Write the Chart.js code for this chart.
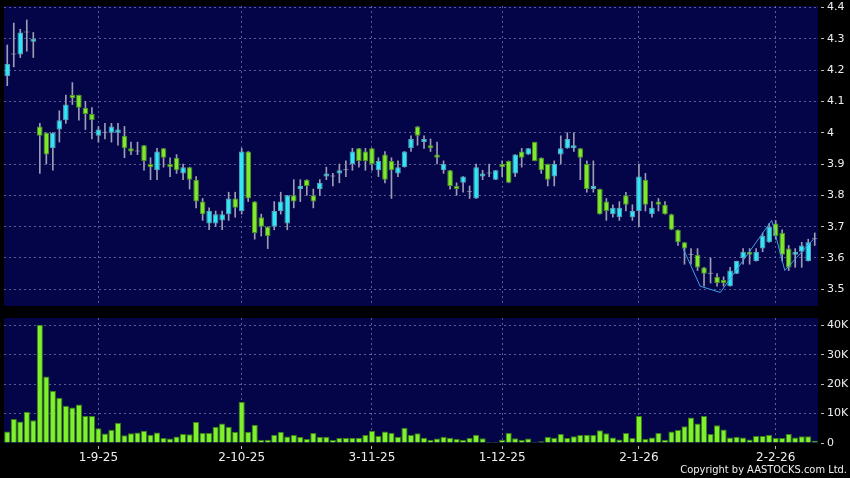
<!DOCTYPE html>
<html>
<head>
<meta charset="utf-8">
<script src="https://cdn.jsdelivr.net/npm/chart.js@4.4.1/dist/chart.umd.min.js"></script>
<style>
  html, body { margin: 0; padding: 0; background: #000; }
  #wrap { position: relative; width: 850px; height: 478px; overflow: hidden; }
  #priceChart { position: absolute; left: 0; top: 0; }
  #volChart { position: absolute; left: 0; top: 310px; }
  #copy {
    position: absolute; right: 3px; top: 463px;
    color: #f0f0f0; font-size: 11px;
    font-family: "DejaVu Sans Condensed", "DejaVu Sans", sans-serif;
    font-stretch: condensed;
  }
</style>
</head>
<body>
<div id="wrap">
  <canvas id="priceChart" width="850" height="310"></canvas>
  <canvas id="volChart" width="850" height="168"></canvas>
  <div id="copy">Copyright by AASTOCKS.com Ltd.</div>
</div>
<script>
// daily candles
const open = [4.18,4.25,4.25,4.32,4.29,4.02,4.00,3.95,4.01,4.04, 4.12,4.12,4.08,4.06,3.99,4.00,4.00,4.00,3.99,3.95,
  3.94,3.96,3.90,3.88,3.95,3.90,3.92,3.87,3.89,3.85, 3.78,3.71,3.71,3.72,3.74,3.79,3.75,3.94,3.78,3.73,
  3.70,3.70,3.75,3.71,3.80,3.82,3.85,3.80,3.82,3.86, 3.86,3.87,3.88,3.90,3.95,3.94,3.95,3.88,3.93,3.91,
  3.87,3.89,3.95,4.02,3.97,3.96,3.93,3.88,3.88,3.83, 3.84,3.81,3.79,3.86,3.87,3.85,3.90,3.91,3.87,3.94,
  3.93,3.97,3.92,3.90,3.86,3.93,3.95,3.95,3.95,3.90, 3.82,3.82,3.78,3.74,3.73,3.80,3.73,3.75,3.85,3.74,
  3.78,3.77,3.74,3.69,3.65,3.61,3.61,3.57,3.55,3.54, 3.53,3.51,3.55,3.60,3.62,3.59,3.63,3.65,3.71,3.68,
  3.63,3.61,3.62,3.59,3.66];
const high = [4.28,4.35,4.33,4.36,4.32,4.03,4.00,4.00,4.07,4.12, 4.16,4.12,4.10,4.08,4.02,4.03,4.03,4.03,4.02,3.97,
  3.97,3.96,3.92,3.95,3.95,3.92,3.93,3.90,3.89,3.86, 3.79,3.76,3.75,3.75,3.81,3.81,3.95,3.94,3.78,3.74,
  3.70,3.78,3.81,3.80,3.85,3.85,3.85,3.82,3.85,3.89, 3.87,3.90,3.91,3.95,3.95,3.95,3.95,3.92,3.94,3.92,
  3.91,3.94,3.99,4.02,3.99,3.98,3.97,3.91,3.88,3.84, 3.86,3.83,3.90,3.88,3.90,3.88,3.91,3.91,3.93,3.95,
  3.95,3.97,3.92,3.90,3.91,3.99,4.00,4.00,3.95,3.91, 3.91,3.82,3.79,3.77,3.78,3.81,3.77,3.90,3.87,3.78,
  3.79,3.78,3.74,3.69,3.65,3.63,3.63,3.57,3.60,3.55, 3.54,3.57,3.59,3.63,3.63,3.63,3.68,3.71,3.72,3.69,
  3.64,3.63,3.65,3.66,3.68];
const low = [4.15,4.21,4.24,4.26,4.24,3.87,3.90,3.88,3.97,4.03, 4.09,4.04,4.01,3.98,3.97,3.98,3.97,3.96,3.92,3.93,
  3.93,3.88,3.85,3.85,3.89,3.86,3.87,3.85,3.82,3.76, 3.72,3.69,3.70,3.69,3.72,3.73,3.74,3.78,3.66,3.67,
  3.63,3.69,3.74,3.69,3.76,3.78,3.80,3.76,3.80,3.85, 3.83,3.84,3.86,3.88,3.89,3.88,3.88,3.86,3.84,3.79,
  3.86,3.89,3.94,3.96,3.95,3.94,3.90,3.87,3.82,3.80, 3.81,3.79,3.79,3.85,3.86,3.85,3.86,3.84,3.86,3.89,
  3.93,3.91,3.87,3.83,3.83,3.90,3.95,3.94,3.85,3.81, 3.81,3.74,3.72,3.73,3.72,3.75,3.72,3.70,3.75,3.73,
  3.75,3.74,3.69,3.64,3.58,3.58,3.56,3.51,3.52,3.51, 3.51,3.51,3.55,3.58,3.58,3.59,3.62,3.65,3.66,3.59,
  3.56,3.57,3.57,3.59,3.64];
const close = [4.22,4.25,4.32,4.32,4.30,3.99,3.93,4.00,4.04,4.09, 4.11,4.08,4.06,4.04,4.01,4.00,4.02,4.01,3.95,3.94,
  3.94,3.91,3.89,3.94,3.92,3.89,3.88,3.89,3.85,3.78, 3.74,3.75,3.74,3.74,3.79,3.76,3.94,3.79,3.68,3.70,
  3.67,3.75,3.78,3.80,3.78,3.83,3.83,3.78,3.84,3.87, 3.86,3.88,3.88,3.94,3.91,3.91,3.90,3.91,3.85,3.88,
  3.89,3.94,3.98,3.99,3.98,3.95,3.92,3.90,3.83,3.82, 3.86,3.81,3.89,3.87,3.87,3.88,3.89,3.84,3.93,3.92,
  3.95,3.91,3.88,3.85,3.90,3.95,3.98,3.96,3.92,3.82, 3.83,3.74,3.75,3.76,3.76,3.77,3.75,3.86,3.77,3.76,
  3.77,3.74,3.69,3.65,3.63,3.61,3.57,3.55,3.55,3.52, 3.52,3.56,3.59,3.62,3.61,3.62,3.67,3.70,3.67,3.61,
  3.57,3.62,3.64,3.65,3.66];
const volume = [3900,8200,7300,10600,7700,40200,22600,17800,15400,12700, 12100,13100,9200,9200,5000,3200,4500,6900,2600,3300,
  3600,4200,2800,3600,1700,1500,2200,3100,3000,7100, 3400,3400,5500,6600,5500,3800,14000,3800,6200,1100,
  1100,2800,3800,2200,2700,2000,1400,3400,2100,2100, 1000,1700,1700,1800,1800,2700,4200,2400,3900,3500,
  2100,5200,2700,3300,1800,1100,1500,2100,1800,1400, 1100,1700,2800,1600,300,300,1100,3400,1600,1000,
  1500,400,600,2000,1800,3100,1700,2300,2700,2800, 2700,4300,3300,1900,1200,3400,1700,9200,1400,1900,
  3400,1100,3900,4400,5700,8700,6600,9200,3100,6000, 4600,1900,2100,1900,1200,2400,2400,2800,1700,1700,
  3100,1900,2300,2300,800];

// thin trend line (position in candles, price)
const trendX = [103.8, 106.4, 109.5, 117.4, 119.4, 123.8];
const trendY = [3.63, 3.51, 3.49, 3.72, 3.56, 3.66];

const tickIdx = [14, 36, 56, 76, 97, 118];
const tickLabels = ['1-9-25', '2-10-25', '3-11-25', '1-12-25', '2-1-26', '2-2-26'];
const priceTicks = [3.5, 3.6, 3.7, 3.8, 3.9, 4.0, 4.1, 4.2, 4.3, 4.4];
const volTicks = [0, 10000, 20000, 30000, 40000];

const N = close.length;
const labels = close.map((_, i) => String(i));

const upFill = '#33e6f6', downFill = '#7fe82c', flatFill = '#a8a8bc';
const upLine = '#5aa6b6', downLine = '#4c9420';
const wickColor = '#9c9cb4';
const gridColor = 'rgba(130,130,180,0.7)';
const textColor = '#eeeeee';

const bodyFill = close.map((c, i) => c > open[i] ? upFill : (c < open[i] ? downFill : flatFill));
const bodyLine = close.map((c, i) => c > open[i] ? upLine : (c < open[i] ? downLine : flatFill));

Chart.defaults.font.family = '"DejaVu Sans", sans-serif';
Chart.defaults.color = textColor;

const panelBg = {
  id: 'panelBg',
  beforeDraw(chart) {
    const { ctx, chartArea: a } = chart;
    ctx.save();
    ctx.fillStyle = '#040449';
    ctx.fillRect(a.left, a.top, a.right - a.left, a.bottom - a.top);
    ctx.restore();
  }
};

function xAxis(showLabels) {
  return {
    type: 'category',
    offset: true,
    grid: {
      offset: false,
      color: gridColor,
      drawTicks: showLabels,
      tickLength: 6,
      tickColor: '#bbbbbb',
      tickBorderDash: [0, 3, 3, 20]
    },
    border: { display: false, dash: [2, 3] },
    afterBuildTicks: s => { s.ticks = tickIdx.map(v => ({ value: v })); },
    afterFit: s => {
      s.height = showLabels ? 35 : 0;
      s.paddingLeft = 0; s.paddingRight = 0;
    },
    ticks: {
      display: showLabels,
      autoSkip: false,
      maxRotation: 0,
      padding: 2,
      font: { size: 12 },
      callback: v => tickLabels[tickIdx.indexOf(v)]
    }
  };
}

function yAxis(min, max, values, hideZero, fmt) {
  return {
    position: 'right',
    min: min,
    max: max,
    grid: {
      color: c => (hideZero && c.tick && c.tick.value === 0) ? 'rgba(0,0,0,0)' : gridColor,
      tickLength: 6,
      tickColor: '#bbbbbb',
      tickBorderDash: [0, 3, 3, 20]
    },
    border: { display: false, dash: [2, 3] },
    afterBuildTicks: s => { s.ticks = values.map(v => ({ value: v })); },
    afterFit: s => { s.width = 32; s.paddingTop = 0; s.paddingBottom = 0; },
    ticks: { padding: 3, font: { size: 11 }, callback: fmt }
  };
}

new Chart(document.getElementById('priceChart'), {
  type: 'bar',
  data: {
    labels: labels,
    datasets: [
      {
        type: 'line',
        xAxisID: 'xl',
        yAxisID: 'y',
        data: trendX.map((x, i) => ({ x: x, y: trendY[i] })),
        borderColor: '#3f9de6',
        borderWidth: 1,
        pointRadius: 0,
        fill: false,
        order: 0
      },
      {
        xAxisID: 'x',
        data: open.map((o, i) => [o, close[i]]),
        backgroundColor: bodyFill,
        borderColor: bodyLine,
        borderWidth: 1,
        borderSkipped: false,
        minBarLength: 1,
        grouped: false,
        categoryPercentage: 1,
        barPercentage: 0.86,
        order: 1
      },
      {
        xAxisID: 'x',
        data: low.map((l, i) => [l, high[i]]),
        backgroundColor: wickColor,
        barThickness: 1,
        grouped: false,
        order: 2
      }
    ]
  },
  options: {
    responsive: false,
    animation: false,
    devicePixelRatio: 1,
    layout: { padding: { left: 4, top: 6, right: 0, bottom: 4 } },
    plugins: { legend: { display: false }, tooltip: { enabled: false } },
    scales: {
      x: xAxis(false),
      xl: { type: 'linear', display: false, offset: false, min: -0.5, max: N - 0.5 },
      y: yAxis(3.4467, 4.4045, priceTicks, false, v => String(Number(v.toFixed(1))))
    }
  },
  plugins: [panelBg]
});

new Chart(document.getElementById('volChart'), {
  type: 'bar',
  data: {
    labels: labels,
    datasets: [{
      data: volume,
      backgroundColor: '#7ff02c',
      borderColor: '#3a7e12',
      borderWidth: 1,
      categoryPercentage: 1,
      barPercentage: 0.95
    }]
  },
  options: {
    responsive: false,
    animation: false,
    devicePixelRatio: 1,
    layout: { padding: { left: 4, top: 8, right: 0, bottom: 0 } },
    plugins: { legend: { display: false }, tooltip: { enabled: false } },
    scales: {
      x: xAxis(true),
      y: yAxis(0, 42500, volTicks, true, v => v === 0 ? '0' : (v / 1000) + 'K')
    }
  },
  plugins: [panelBg]
});
</script>
</body>
</html>
